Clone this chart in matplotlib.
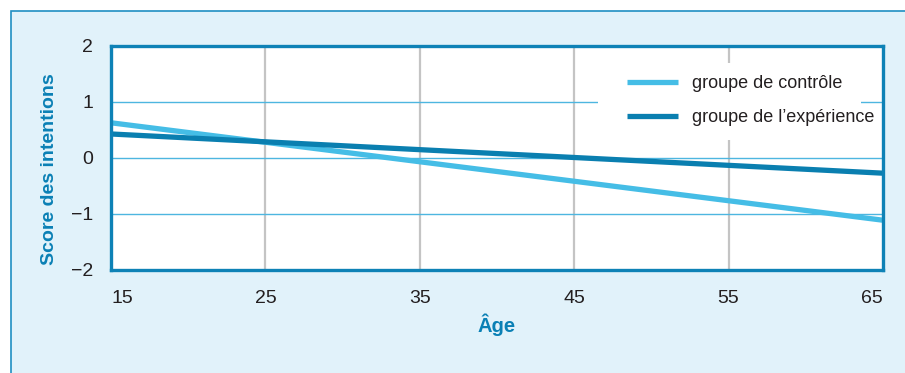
import matplotlib
matplotlib.use("Agg")
import matplotlib.pyplot as plt
from matplotlib.patches import Rectangle

# ---- data ----
ages = [15, 65]
controle = [0.62, -1.12]
experience = [0.42, -0.28]
x_ticks = [15, 25, 35, 45, 55, 65]
y_ticks = [-2, -1, 0, 1, 2]
y_tick_labels = ["\u22122", "\u22121", "0", "1", "2"]
labels = ["groupe de contr\u00f4le", "groupe de l\u2019exp\u00e9rience"]

FONT = ["Liberation Sans Narrow", "Liberation Sans", "DejaVu Sans"]
plt.rcParams["font.family"] = FONT

W, H = 905, 373
fig = plt.figure(figsize=(W / 100, H / 100), dpi=100, facecolor="white")

def fx(x):
    return x / W

def fy(y):
    return 1 - y / H

# outer light-blue panel
fig.patches.append(Rectangle((fx(11), fy(H + 20)), fx(W + 20 - 11), (H + 20 - 11) / H,
                             transform=fig.transFigure, facecolor="#e1f2fa",
                             edgecolor="#1f8fc2", linewidth=1.2, zorder=-5))

left, right, top, bottom = 111, 883, 45.5, 269.5
ax = fig.add_axes([fx(left), fy(bottom), (right - left) / W, (bottom - top) / H])
ax.set_zorder(2)
ax.set_facecolor("white")
ax.set_xlim(15, 65)
ax.set_ylim(-2, 2)

# grid
for xv in x_ticks[1:-1]:
    ax.axvline(xv, color="#c4c4c4", lw=1.6, zorder=1)
for yv in y_ticks[1:-1]:
    ax.axhline(yv, color="#4db6e0", lw=1.0, zorder=1)

# legend white box
ax.add_patch(Rectangle((fx(598), fy(140)), fx(861 - 598), (140 - 63) / H,
                       transform=fig.transFigure, facecolor="white",
                       edgecolor="none", zorder=2))

l1, = ax.plot(ages, controle, color="#45bde6", lw=3.8, solid_capstyle="butt", zorder=3)
l2, = ax.plot(ages, experience, color="#0a7fb0", lw=3.8, solid_capstyle="butt", zorder=3)

for s in ax.spines.values():
    s.set_color("#0e82b6")
    s.set_linewidth(2.4)
    s.set_zorder(5)

ax.set_xticks(x_ticks)
ax.set_xticklabels([str(v) for v in x_ticks])
ax.set_yticks(y_ticks)
ax.set_yticklabels(y_tick_labels)
ax.tick_params(axis="both", length=0, labelsize=14, colors="#231f20")
ax.tick_params(axis="x", pad=15)
ax.tick_params(axis="y", pad=13)
xt = ax.get_xticklabels()
xt[0].set_ha("left")
xt[-1].set_ha("right")

ax.set_ylabel("Score des intentions", fontsize=14, fontweight="bold", color="#0a80b5")
ax.yaxis.set_label_coords(-0.069, 0.449)
ax.set_xlabel("\u00c2ge", fontsize=14.5, fontweight="bold", color="#0a80b5")
ax.xaxis.set_label_coords(0.5, -0.195)

leg = ax.legend([l1, l2], labels, loc="upper left",
                bbox_to_anchor=(fx(627), fy(75)), bbox_transform=fig.transFigure,
                frameon=False, fontsize=13, handlelength=2.82, handletextpad=0.78,
                labelspacing=0.94, borderpad=0, borderaxespad=0)
for t in leg.get_texts():
    t.set_color("#231f20")
leg.set_zorder(6)

fig.savefig("out.png", dpi=100, facecolor="white")
